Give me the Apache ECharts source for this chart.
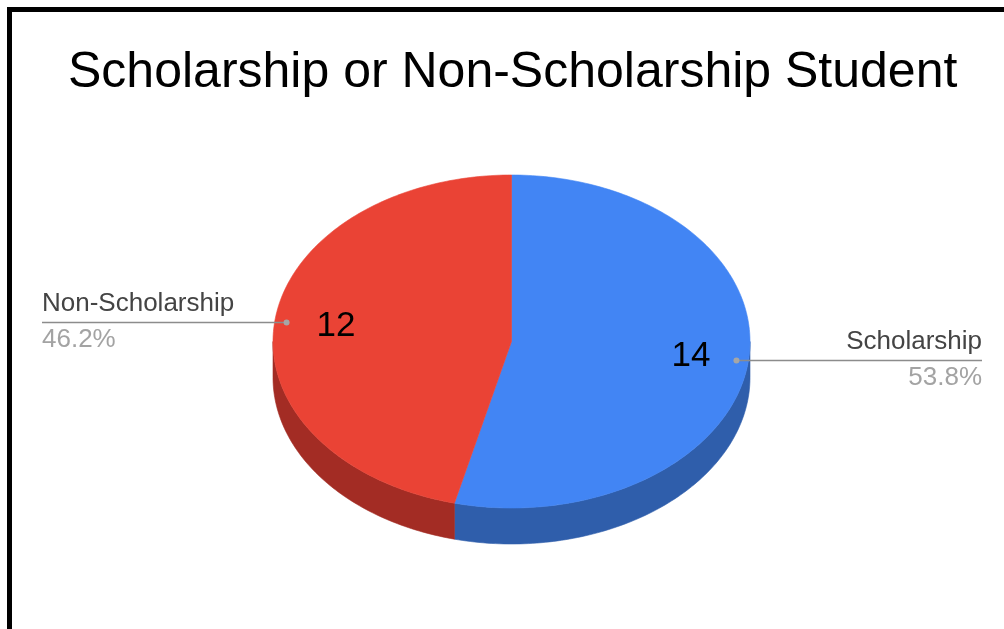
<!DOCTYPE html>
<html>
<head>
<meta charset="utf-8">
<title>Scholarship or Non-Scholarship Student</title>
<script src="https://cdn.jsdelivr.net/npm/echarts@6/dist/echarts.min.js"></script>
<style>
  html, body { margin: 0; padding: 0; background: #fff; }
  #chart { width: 1004px; height: 629px; }
</style>
</head>
<body>
<div id="chart"></div>
<script>
// Student counts by funding type
const categories = ['Scholarship', 'Non-Scholarship'];
const counts = [14, 12];
const chartTitle = 'Scholarship or Non-Scholarship Student';

// Palette: top faces and the darker rim
const topColors = ['#4285F4', '#EA4335'];
const rimColors = ['#2F5EAB', '#A32C24'];

// Tilted-disc geometry (pixels)
const geo = { cx: 511.5, cy: 341.5, rx: 238.5, ry: 166.5, depth: 36 };
const labelSpan = { left: 42, right: 982 };
const FONT = '"Liberation Sans", Arial, sans-serif';

const total = counts.reduce((a, b) => a + b, 0);
const starts = [];
counts.reduce((acc, v, i) => { starts[i] = acc; return acc + v; }, 0);

function angleOf(cum) { return -90 + 360 * cum / total; }
function pt(deg, f, dy) {
  const r = deg * Math.PI / 180;
  return [geo.cx + f * geo.rx * Math.cos(r), geo.cy + f * geo.ry * Math.sin(r) + (dy || 0)];
}
function arcPoints(a0, a1, f, dy) {
  const pts = [];
  const n = Math.max(2, Math.ceil(Math.abs(a1 - a0) / 1));
  for (let k = 0; k <= n; k++) pts.push(pt(a0 + (a1 - a0) * k / n, f, dy));
  return pts;
}

const seriesData = counts.map((v, i) => ({ name: categories[i], value: v }));

// Visible rim (front half of the disc) for each slice
function renderRim(params, api) {
  const i = params.dataIndex;
  const a0 = angleOf(starts[i]);
  const a1 = angleOf(starts[i] + api.value(0));
  const lo = Math.max(a0, 0), hi = Math.min(a1, 180);
  if (hi <= lo) return { type: 'group', children: [] };
  const top = arcPoints(lo, hi, 1, 0);
  const bottom = arcPoints(lo, hi, 1, geo.depth).reverse();
  return {
    type: 'polygon',
    shape: { points: top.concat(bottom) },
    style: { fill: rimColors[i], stroke: rimColors[i], lineWidth: 0.6 }
  };
}

// Top face, value label and outside leader label for each slice
function renderTop(params, api) {
  const i = params.dataIndex;
  const v = api.value(0);
  const a0 = angleOf(starts[i]);
  const a1 = angleOf(starts[i] + v);
  const mid = (a0 + a1) / 2;
  const face = [[geo.cx, geo.cy]].concat(arcPoints(a0, a1, 1, 0));
  const valuePos = pt(mid, 0.75, 0);
  const dot = pt(mid, 0.95, 0);
  const onRight = Math.cos(mid * Math.PI / 180) >= 0;
  const endX = onRight ? labelSpan.right : labelSpan.left;
  const align = onRight ? 'right' : 'left';
  const pct = (v / total * 100).toFixed(1) + '%';
  return {
    type: 'group',
    children: [
      {
        type: 'polygon',
        shape: { points: face },
        style: { fill: topColors[i], stroke: topColors[i], lineWidth: 0.6 }
      },
      {
        type: 'text',
        style: {
          text: String(v), x: valuePos[0] + 2, y: valuePos[1],
          fill: '#000', fontSize: 35, fontFamily: FONT,
          align: 'center', verticalAlign: 'middle'
        }
      },
      {
        type: 'line',
        shape: { x1: dot[0], y1: dot[1], x2: endX, y2: dot[1] },
        style: { stroke: '#8c8c8c', lineWidth: 1.5 }
      },
      {
        type: 'circle',
        shape: { cx: dot[0], cy: dot[1], r: 3 },
        style: { fill: '#a6a6a6' }
      },
      {
        type: 'text',
        style: {
          text: categories[i], x: endX, y: dot[1] - 19,
          fill: '#444', fontSize: 26, fontFamily: FONT,
          align: align, verticalAlign: 'middle'
        }
      },
      {
        type: 'text',
        style: {
          text: pct, x: endX, y: dot[1] + 17,
          fill: '#a3a3a3', fontSize: 26, fontFamily: FONT,
          align: align, verticalAlign: 'middle'
        }
      }
    ]
  };
}

const chart = echarts.init(document.getElementById('chart'), null, { renderer: 'canvas' });
chart.setOption({
  backgroundColor: '#fff',
  animation: false,
  title: {
    text: chartTitle,
    left: 68,
    top: 48,
    padding: 0,
    textStyle: { fontFamily: FONT, fontSize: 50, fontWeight: 'normal', color: '#000' }
  },
  graphic: [
    {
      type: 'rect',
      shape: { x: 9.5, y: 9.5, width: 1200, height: 800 },
      style: { fill: 'none', stroke: '#000', lineWidth: 5 },
      silent: true
    }
  ],
  series: [
    { type: 'custom', coordinateSystem: 'none', renderItem: renderRim, data: seriesData, z: 1 },
    { type: 'custom', coordinateSystem: 'none', renderItem: renderTop, data: seriesData, z: 2 }
  ]
});
</script>
</body>
</html>
